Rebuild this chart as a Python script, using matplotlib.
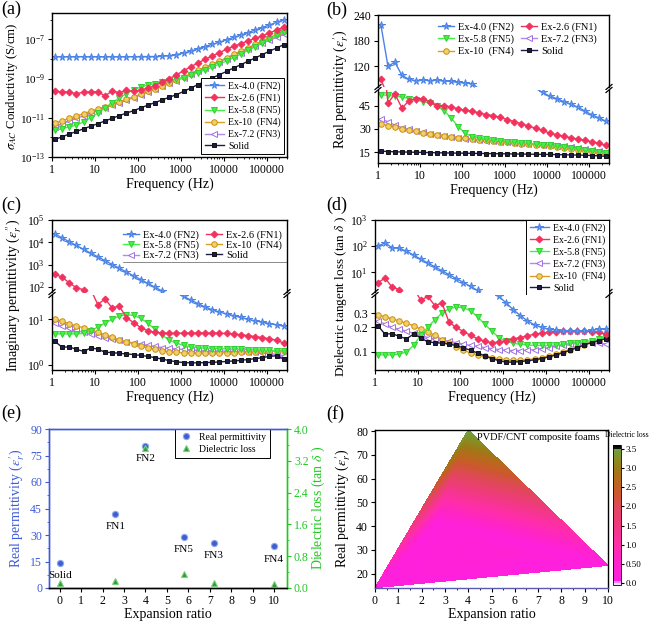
import numpy as np
import matplotlib
matplotlib.use('Agg')
import matplotlib.pyplot as plt
import matplotlib.ticker as mticker
import matplotlib.tri as mtri
from matplotlib.colors import LinearSegmentedColormap, Normalize
from matplotlib.lines import Line2D

plt.rcParams['font.family'] = ['Liberation Serif', 'DejaVu Serif']
plt.rcParams['mathtext.fontset'] = 'stix'
plt.rcParams['axes.linewidth'] = 1.0
plt.rcParams['xtick.direction'] = 'out'
plt.rcParams['ytick.direction'] = 'out'
plt.rcParams['xtick.labelsize'] = 8.5
plt.rcParams['ytick.labelsize'] = 8.5
plt.rcParams['xtick.major.size'] = 3
plt.rcParams['ytick.major.size'] = 3
plt.rcParams['xtick.minor.size'] = 1.5
plt.rcParams['ytick.minor.size'] = 1.5
plt.rcParams['xtick.major.pad'] = 2
plt.rcParams['ytick.major.pad'] = 2

# ---------------- data ----------------
freq = [1.17, 1.72, 2.52, 3.70, 5.43, 7.97, 11.7, 17.2, 25.2, 37.0, 54.3, 79.7,
        117, 172, 252, 370, 543, 797, 1170, 1720, 2520, 3700, 5430, 7970,
        11700, 17200, 25200, 37000, 54300, 79700, 117000, 172000, 252000]
freq_ticks = [1, 10, 100, 1000, 10000, 100000]
freq_tick_labels = ['1', '10', '100', '1000', '10000', '100000']

labels = {'FN2': 'Ex-4.0 (FN2)', 'FN1': 'Ex-2.6 (FN1)', 'FN5': 'Ex-5.8 (FN5)',
          'FN4': 'Ex-10  (FN4)', 'FN3': 'Ex-7.2 (FN3)', 'Solid': 'Solid'}

# (a) AC conductivity, S/cm
a_fn2 = [1.30e-8, 1.31e-8, 1.30e-8, 1.31e-8, 1.30e-8, 1.31e-8, 1.30e-8, 1.30e-8,
         1.31e-8, 1.31e-8, 1.30e-8, 1.31e-8, 1.32e-8, 1.32e-8, 1.33e-8, 1.38e-8,
         1.48e-8, 1.66e-8, 2.0e-8, 2.5e-8, 3.3e-8, 4.3e-8, 5.6e-8, 7.2e-8, 9.5e-8,
         1.26e-7, 1.66e-7, 2.2e-7, 3.0e-7, 4.0e-7, 5.4e-7, 7.4e-7, 1.0e-6]
a_fn1 = [2.2e-10, 2.1e-10, 2.0e-10, 1.7e-10, 2.0e-10, 2.1e-10, 2.1e-10, 1.3e-10,
         2.3e-10, 1.9e-10, 2.5e-10, 2.2e-10, 2.6e-10, 3.3e-10, 4.4e-10, 6.4e-10,
         9.8e-10, 1.55e-9, 2.5e-9, 4.0e-9, 6.3e-9, 9.5e-9, 1.4e-8, 2.1e-8, 3.1e-8,
         4.4e-8, 6.0e-8, 8.3e-8, 1.12e-7, 1.5e-7, 2.1e-7, 3.0e-7, 4.2e-7]
a_fn5 = [2.3e-12, 2.8e-12, 3.4e-12, 4.2e-12, 6.2e-12, 1.02e-11, 1.74e-11, 3.2e-11,
         5.8e-11, 1.02e-10, 1.7e-10, 2.75e-10, 3.7e-10, 4.6e-10, 5.5e-10, 6.5e-10,
         7.6e-10, 9.1e-10, 1.12e-9, 1.48e-9, 2.0e-9, 2.75e-9, 3.8e-9, 5.5e-9, 7.9e-9,
         1.17e-8, 1.74e-8, 2.7e-8, 4.2e-8, 6.6e-8, 1.02e-7, 1.58e-7, 2.4e-7]
a_fn4 = [5.4e-12, 7.1e-12, 9.3e-12, 1.23e-11, 1.62e-11, 2.14e-11, 2.8e-11, 3.7e-11,
         4.9e-11, 6.5e-11, 8.7e-11, 1.17e-10, 1.58e-10, 2.2e-10, 3.0e-10, 4.3e-10,
         6.0e-10, 8.5e-10, 1.23e-9, 1.78e-9, 2.6e-9, 3.7e-9, 5.4e-9, 7.9e-9, 1.15e-8,
         1.7e-8, 2.5e-8, 3.7e-8, 5.5e-8, 8.1e-8, 1.2e-7, 1.78e-7, 2.6e-7]
a_fn3 = [3.5e-12, 5.0e-12, 6.8e-12, 9.3e-12, 1.26e-11, 1.7e-11, 2.3e-11, 3.2e-11,
         4.3e-11, 5.8e-11, 7.9e-11, 1.07e-10, 1.48e-10, 2.0e-10, 2.8e-10, 4.0e-10,
         5.6e-10, 7.9e-10, 1.12e-9, 1.62e-9, 2.3e-9, 3.4e-9, 4.9e-9, 7.1e-9, 1.02e-8,
         1.48e-8, 2.1e-8, 3.1e-8, 4.5e-8, 6.3e-8, 8.9e-8, 1.26e-7, 1.78e-7]
a_solid = [7.9e-13, 1.07e-12, 1.48e-12, 2.0e-12, 2.75e-12, 3.7e-12, 5.0e-12, 6.9e-12,
           9.3e-12, 1.29e-11, 1.74e-11, 2.3e-11, 3.2e-11, 4.4e-11, 6.0e-11, 8.1e-11,
           1.12e-10, 1.51e-10, 2.2e-10, 3.3e-10, 4.9e-10, 7.2e-10, 1.07e-9, 1.58e-9,
           2.3e-9, 3.5e-9, 5.1e-9, 7.6e-9, 1.12e-8, 1.66e-8, 2.5e-8, 3.6e-8, 5.4e-8]

# (b) real permittivity
b_fn2 = [217, 120, 129, 98, 89, 86, 88, 86, 87, 85, 84, 82, 80, 79, 66, 64, 63,
         62, 61, 60, 59, 57.5, 56, 53.5, 51, 49.5, 47.5, 46, 44, 41.5, 39, 37, 35]
b_fn1 = [90, 46.6, 52.5, 43.3, 48.1, 49.5, 49.5, 47, 45, 45, 44, 42.9, 41.9, 41.3,
         40.2, 39.2, 38.5, 37.3, 36, 34.6, 33.2, 31.8, 30.4, 29, 27.2, 26.2, 25.2,
         24.3, 23.4, 22.6, 21.7, 20.6, 19.3]
b_fn5 = [52, 51.5, 51, 50.5, 49.5, 48.5, 47.5, 46.5, 44.5, 41.5, 37, 31.5, 27, 25,
         24, 23.3, 22.7, 22.2, 21.8, 21.4, 21, 20.6, 20.2, 19.8, 19.3, 18.8, 18.3,
         17.8, 17.2, 16.6, 16, 15.3, 14.5]
b_fn4 = [33.2, 32, 31, 30, 29.2, 28.4, 27.6, 26.9, 26.2, 25.6, 25, 24.4, 23.9, 23.4,
         22.9, 22.5, 22.1, 21.7, 21.3, 20.9, 20.5, 20.1, 19.7, 19.3, 18.8, 18.3,
         17.8, 17.2, 16.6, 15.9, 15.2, 14.4, 13.6]
b_fn3 = [36.3, 34.6, 32.4, 30.8, 29.6, 28.6, 27.7, 26.9, 26.2, 25.5, 24.9, 24.3,
         23.7, 23.2, 22.8, 22.4, 22.1, 21.8, 21.5, 21.1, 20.8, 20.4, 20.1, 19.8,
         19.6, 19.2, 18.8, 18.3, 17.8, 17.2, 16.6, 15.9, 15.2]
b_solid = [15.6, 15.4, 15.2, 15.1, 15.0, 14.9, 14.8, 14.7, 14.6, 14.5, 14.4, 14.35,
           14.3, 14.2, 14.15, 14.1, 14.0, 13.95, 13.9, 13.8, 13.75, 13.7, 13.6,
           13.55, 13.5, 13.4, 13.3, 13.2, 13.1, 13.0, 12.8, 12.6, 12.3]

# (c) imaginary permittivity
c_fn2 = [23400, 15800, 10700, 7240, 4900, 3310, 2240, 1510, 1020, 692, 468, 316,
         214, 145, 98, 66, 48, 38, 31.6, 26.3, 21.9, 18.6, 16.2, 14.5, 13.2, 12.0,
         11.0, 10.0, 9.3, 8.7, 8.1, 7.6, 7.1]
c_fn1 = [380, 275, 155, 93, 76, 45, 21, 28, 17.7, 19.5, 10.8, 8.5, 6.6, 5.6, 5.2,
         5.0, 4.9, 4.95, 5.0, 5.0, 5.0, 5.0, 5.0, 4.95, 4.9, 4.8, 4.6, 4.4, 4.2,
         4.0, 3.75, 3.5, 3.0]
c_fn5 = [4.8, 4.8, 4.8, 4.8, 4.9, 5.6, 6.8, 8.3, 10.0, 11.8, 12.5, 12.2, 10.5, 8.2,
         6.0, 4.5, 3.5, 3.0, 2.7, 2.5, 2.4, 2.35, 2.3, 2.28, 2.25, 2.22, 2.2, 2.18,
         2.15, 2.12, 2.1, 2.05, 2.0]
c_fn4 = [10.3, 9.0, 8.0, 7.1, 6.6, 5.9, 5.2, 4.6, 4.1, 3.5, 3.2, 2.95, 2.65, 2.4,
         2.2, 2.05, 1.95, 1.9, 1.85, 1.82, 1.8, 1.8, 1.82, 1.84, 1.86, 1.88, 1.9,
         1.92, 1.95, 1.98, 2.0, 2.03, 2.05]
c_fn3 = [8.2, 7.0, 6.3, 5.7, 5.2, 4.8, 4.4, 4.0, 3.7, 3.45, 3.25, 3.05, 2.85, 2.7,
         2.55, 2.42, 2.32, 2.25, 2.2, 2.15, 2.1, 2.08, 2.05, 2.03, 2.0, 2.0, 1.98,
         1.95, 1.9, 1.85, 1.8, 1.7, 1.6]
c_solid = [3.3, 2.45, 2.5, 2.2, 2.0, 2.35, 2.25, 1.9, 1.88, 1.8, 1.75, 1.7, 1.62,
           1.55, 1.45, 1.35, 1.25, 1.18, 1.13, 1.12, 1.12, 1.13, 1.15, 1.17, 1.2,
           1.23, 1.27, 1.32, 1.38, 1.45, 1.55, 1.6, 1.35]

# (d) dielectric tangent loss
d_fn2 = [100, 133, 87, 82, 65, 46, 32, 23, 16.2, 11.5, 8.1, 5.8, 4.1, 2.9, 2.05,
         1.45, 0.9, 0.48, 0.4, 0.33, 0.28, 0.24, 0.215, 0.2, 0.19, 0.185, 0.18,
         0.18, 0.18, 0.18, 0.185, 0.19, 0.19]
d_fn1 = [4.0, 6.1, 2.7, 2.2, 1.2, 0.62, 0.43, 0.48, 0.37, 0.4, 0.23, 0.2, 0.178,
         0.16, 0.145, 0.135, 0.13, 0.132, 0.138, 0.145, 0.15, 0.158, 0.165, 0.17,
         0.175, 0.178, 0.18, 0.18, 0.18, 0.18, 0.178, 0.175, 0.165]
d_fn5 = [0.092, 0.092, 0.092, 0.094, 0.1, 0.12, 0.16, 0.2, 0.25, 0.3, 0.34, 0.355,
         0.35, 0.32, 0.27, 0.22, 0.18, 0.15, 0.135, 0.128, 0.124, 0.122, 0.12, 0.12,
         0.12, 0.122, 0.124, 0.127, 0.13, 0.134, 0.138, 0.143, 0.15]
d_fn3 = [0.24, 0.22, 0.2, 0.19, 0.18, 0.17, 0.16, 0.15, 0.145, 0.14, 0.135, 0.13,
         0.125, 0.12, 0.117, 0.113, 0.11, 0.107, 0.105, 0.104, 0.104, 0.105, 0.107,
         0.11, 0.113, 0.117, 0.12, 0.124, 0.128, 0.13, 0.13, 0.128, 0.125]
d_fn4 = [0.282, 0.27, 0.255, 0.24, 0.225, 0.21, 0.19, 0.175, 0.16, 0.142, 0.128,
         0.115, 0.105, 0.097, 0.092, 0.088, 0.085, 0.082, 0.08, 0.079, 0.079, 0.08,
         0.082, 0.085, 0.089, 0.094, 0.1, 0.107, 0.115, 0.123, 0.132, 0.142, 0.152]
d_solid = [0.21, 0.165, 0.168, 0.155, 0.145, 0.165, 0.15, 0.132, 0.13, 0.128, 0.125,
           0.12, 0.112, 0.105, 0.097, 0.09, 0.083, 0.078, 0.075, 0.075, 0.076, 0.078,
           0.08, 0.083, 0.087, 0.092, 0.098, 0.105, 0.113, 0.122, 0.13, 0.138, 0.145]

# (e)/(f) summary values
sample_names = ['Solid', 'FN1', 'FN2', 'FN5', 'FN3', 'FN4']
expansion = [0, 2.6, 4.0, 5.8, 7.2, 10]
real_perm = [14.1, 42, 80.5, 28.8, 25.5, 23.5]
diel_loss = [0.12, 0.18, 3.52, 0.36, 0.12, 0.1]

# ---------------- styles ----------------
styles = {
    'FN2': dict(color='#4a82e6', marker='*', ms=5.5, mec='#4a82e6', mfc='#6a9af0'),
    'FN1': dict(color='#f2325e', marker='D', ms=3.5, mec='#f2325e', mfc='#f2325e'),
    'FN5': dict(color='#48ee48', marker='v', ms=4.5, mec='#30d030', mfc='#48ee48'),
    'FN4': dict(color='#d9a021', marker='o', ms=4, mfc='#f2cf6a', mec='#c99010'),
    'FN3': dict(color='#b588ec', marker='<', ms=4, mfc='white', mec='#a070e0'),
    'Solid': dict(color='#1c1c44', marker='s', ms=3.5, mec='#111111', mfc='#1c1c44'),
}
draw_order = ['FN3', 'FN4', 'FN5', 'Solid', 'FN1', 'FN2']

W, H = 656, 626
fig = plt.figure(figsize=(W / 100, H / 100), dpi=100)


def add_ax(x0, y0, x1, y1):
    return fig.add_axes([x0 / W, 1 - y1 / H, (x1 - x0) / W, (y1 - y0) / H])


def plot_all(axes, data):
    # lines run through the whole range (clipped by the axes),
    # markers only where the point lies inside this axes' y range
    handles = {}
    for ax in axes:
        ax.set_autoscale_on(False)
        lo, hi = ax.get_ylim()
        for key in draw_order:
            st = styles[key]
            vals = np.array(data[key], dtype=float)
            ax.plot(freq, vals, color=st['color'], lw=1.0)
            shown = np.where((vals >= lo) & (vals <= hi), vals, np.nan)
            ax.plot(freq, shown, ls='none', marker=st['marker'], ms=st['ms'],
                    mec=st['mec'], mfc=st['mfc'], mew=0.7)
    for key in draw_order:
        handles[key] = Line2D([], [], lw=1.0, mew=0.7, **styles[key])
    return handles


def freq_axis(ax, show=True):
    ax.set_xscale('log')
    ax.set_xlim(1, 3e5)
    ax.set_xticks(freq_ticks)
    ax.set_xticklabels(freq_tick_labels if show else [])
    ax.xaxis.set_minor_locator(mticker.LogLocator(subs=np.arange(2, 10)))
    ax.xaxis.set_minor_formatter(mticker.NullFormatter())
    if not show:
        ax.tick_params(axis='x', which='both', length=0)


def break_marks(ax_top, ax_bot):
    for ax, yy in ((ax_top, 0), (ax_bot, 1)):
        bb = ax.get_position()
        dx = 3.0 / (bb.width * W)
        dy = 2.5 / (bb.height * H)
        for xx in (0, 1):
            ax.plot([xx - dx, xx + dx], [yy - dy, yy + dy], transform=ax.transAxes,
                    color='k', lw=0.9, clip_on=False)


def split_spines(ax_top, ax_bot):
    ax_top.spines['bottom'].set_visible(False)
    ax_bot.spines['top'].set_visible(False)
    break_marks(ax_top, ax_bot)


def ylabel(x, y, text, color='k', size=10):
    fig.text(x / W, 1 - y / H, text, rotation=90, ha='center', va='center',
             fontsize=size, color=color)


def panel(x, y, text):
    fig.text(x / W, 1 - y / H, text, ha='left', va='top', fontsize=13)


# ---------------- (a) ----------------
ax_a = add_ax(52, 13, 287, 157)
ax_a.set_yscale('log')
ax_a.set_ylim(1e-13, 2.2e-6)
freq_axis(ax_a)
h_a = plot_all([ax_a], {'FN2': a_fn2, 'FN1': a_fn1, 'FN5': a_fn5, 'FN4': a_fn4,
                        'FN3': a_fn3, 'Solid': a_solid})
ax_a.yaxis.set_major_locator(mticker.FixedLocator([1e-13, 1e-11, 1e-9, 1e-7]))
ax_a.yaxis.set_minor_locator(mticker.FixedLocator([1e-12, 1e-10, 1e-8, 1e-6]))
ax_a.yaxis.set_major_formatter(mticker.LogFormatterMathtext())
ax_a.yaxis.set_minor_formatter(mticker.NullFormatter())
ax_a.tick_params(axis='y', labelsize=8)
ax_a.set_xlabel('Frequency (Hz)', fontsize=10, labelpad=1)
a_order = ['FN2', 'FN1', 'FN5', 'FN4', 'FN3', 'Solid']
leg_a = ax_a.legend([h_a[k] for k in a_order], [labels[k] for k in a_order],
                    loc='lower right', fontsize=7, fancybox=False, edgecolor='k',
                    framealpha=1, borderaxespad=0.3, handlelength=2.0,
                    handletextpad=0.4, borderpad=0.35, labelspacing=0.25)
leg_a.get_frame().set_linewidth(0.7)
ylabel(12, 86, r'$\sigma_{AC}$ Conductivity (S/cm)', size=9.2)
panel(1, 1, '(a)')

# ---------------- (b) ----------------
ax_bt = add_ax(378, 15, 609, 87)
ax_bb = add_ax(378, 90, 609, 163)
ax_bt.set_ylim(71, 240)
ax_bb.set_ylim(8, 55)
freq_axis(ax_bt, show=False)
freq_axis(ax_bb)
h_b = plot_all([ax_bt, ax_bb], {'FN2': b_fn2, 'FN1': b_fn1, 'FN5': b_fn5,
                                'FN4': b_fn4, 'FN3': b_fn3, 'Solid': b_solid})
ax_bt.set_yticks([120, 180, 240])
ax_bb.set_yticks([15, 30, 45])
split_spines(ax_bt, ax_bb)
ax_bb.set_xlabel('Frequency (Hz)', fontsize=10, labelpad=1)
b_order = ['FN2', 'FN5', 'FN4', 'FN1', 'FN3', 'Solid']
ax_bt.legend([h_b[k] for k in b_order], [labels[k] for k in b_order], ncol=2,
             loc='upper right', fontsize=7.5, frameon=False, columnspacing=0.7,
             borderaxespad=0.2, bbox_to_anchor=(0.97, 0.97), handlelength=1.5,
             handletextpad=0.4, borderpad=0.3, labelspacing=0.25)
ylabel(341, 89, r"Real permittivity ($\varepsilon_r'$)")
panel(326, 2, '(b)')

# ---------------- (c) ----------------
ax_ct = add_ax(52, 220, 287, 292)
ax_cb = add_ax(52, 295, 287, 370)
for ax in (ax_ct, ax_cb):
    ax.set_yscale('log')
ax_ct.set_ylim(60, 1e5)
ax_cb.set_ylim(0.78, 34)
freq_axis(ax_ct, show=False)
freq_axis(ax_cb)
h_c = plot_all([ax_ct, ax_cb], {'FN2': c_fn2, 'FN1': c_fn1, 'FN5': c_fn5,
                                'FN4': c_fn4, 'FN3': c_fn3, 'Solid': c_solid})
for ax in (ax_ct, ax_cb):
    ax.yaxis.set_major_formatter(mticker.LogFormatterMathtext())
    ax.yaxis.set_minor_locator(mticker.NullLocator())
ax_ct.set_yticks([1e2, 1e3, 1e4, 1e5])
ax_cb.set_yticks([1, 10])
split_spines(ax_ct, ax_cb)
ax_cb.set_xlabel('Frequency (Hz)', fontsize=10, labelpad=1)
c_order = ['FN2', 'FN5', 'FN3', 'FN1', 'FN4', 'Solid']
ax_ct.legend([h_c[k] for k in c_order], [labels[k] for k in c_order], ncol=2,
             loc='upper right', fontsize=7.5, frameon=False, columnspacing=0.7,
             borderaxespad=0.1, bbox_to_anchor=(0.995, 0.92), handlelength=1.5,
             handletextpad=0.4, borderpad=0.3, labelspacing=0.08)
ax_ct.add_line(Line2D([0.3, 1.0], [0.41, 0.41], transform=ax_ct.transAxes,
                      color='#777777', lw=0.6))
ylabel(14, 295, r"Imaginary permittivity ($\varepsilon_r''$)")
panel(1, 197, '(c)')

# ---------------- (d) ----------------
ax_dt = add_ax(375, 220, 609, 292)
ax_db = add_ax(375, 295, 609, 370)
for ax in (ax_dt, ax_db):
    ax.set_yscale('log')
ax_dt.set_ylim(1.78, 1000)
ax_db.set_ylim(0.06, 0.5)
freq_axis(ax_dt, show=False)
freq_axis(ax_db)
h_d = plot_all([ax_dt, ax_db], {'FN2': d_fn2, 'FN1': d_fn1, 'FN5': d_fn5,
                                'FN4': d_fn4, 'FN3': d_fn3, 'Solid': d_solid})
for ax in (ax_dt, ax_db):
    ax.yaxis.set_minor_locator(mticker.NullLocator())
ax_dt.set_yticks([10, 100, 1000])
ax_dt.yaxis.set_major_formatter(mticker.LogFormatterMathtext())
ax_db.set_yticks([0.1, 0.2, 0.3])
ax_db.set_yticklabels(['0.1', '0.2', '0.3'])
split_spines(ax_dt, ax_db)
ax_db.set_xlabel('Frequency (Hz)', fontsize=10, labelpad=1)
d_order = ['FN2', 'FN1', 'FN5', 'FN3', 'FN4', 'Solid']
leg_d = ax_dt.legend([h_d[k] for k in d_order], [labels[k] for k in d_order],
                     loc='upper right', fontsize=7, fancybox=False, edgecolor='k',
                     framealpha=1, borderaxespad=0, handlelength=2.0,
                     handletextpad=0.4, borderpad=0.35, labelspacing=0.25)
leg_d.get_frame().set_linewidth(0.7)
ylabel(341, 297, r'Dielectric tangent loss (tan $\delta$ )', size=9.5)
panel(326, 197, '(d)')

# ---------------- (e) ----------------
blue = '#3d5ad8'
green = '#22c822'
ax_e = add_ax(49, 429, 287, 588)
ax_e2 = ax_e.twinx()
p1, = ax_e.plot(expansion, real_perm, 'o', ls='none', ms=4.5, mfc='#3f5fd0',
                mec='#8fa8f0', mew=0.8)
p2, = ax_e2.plot(expansion, diel_loss, '^', ls='none', ms=5, mfc='#2f9a3a',
                 mec='#7ad27a', mew=0.8)
ax_e.set_xlim(-0.5, 10.6)
ax_e.set_xticks(range(0, 11))
ax_e.set_ylim(0, 90)
ax_e.set_yticks(range(0, 91, 15))
ax_e.yaxis.set_minor_locator(mticker.AutoMinorLocator(2))
ax_e2.set_ylim(0, 4.0)
ax_e2.set_yticks(np.arange(0, 4.01, 0.8))
ax_e2.yaxis.set_major_formatter(mticker.FormatStrFormatter('%.1f'))
ax_e2.yaxis.set_minor_locator(mticker.AutoMinorLocator(2))
ax_e.tick_params(axis='y', colors=blue, which='both')
ax_e2.tick_params(axis='y', colors=green, which='both')
for ax in (ax_e, ax_e2):
    ax.spines['left'].set_color(blue)
    ax.spines['top'].set_color(blue)
    ax.spines['right'].set_color(green)
for name, xv, yv in zip(sample_names, expansion, real_perm):
    ax_e.annotate(name, (xv, yv), xytext=(0, -6), textcoords='offset points',
                  ha='center', va='top', fontsize=8)
ax_e.set_xlabel('Expansion ratio', fontsize=10, labelpad=1)
leg_e = ax_e.legend([p1, p2], ['Real permittivity', 'Dielectric loss'],
                    loc='upper right', bbox_to_anchor=(0.93, 1.0), fontsize=7,
                    fancybox=False, edgecolor='k', framealpha=1, borderaxespad=0,
                    handlelength=1.5, handletextpad=0.6, borderpad=0.4,
                    labelspacing=0.3)
leg_e.get_frame().set_linewidth(0.7)
ylabel(17, 508, r"Real permittivity ($\varepsilon_r'$)", color=blue)
ylabel(318, 508, r'Dielectric loss (tan $\delta$ )', color=green)
panel(1, 405, '(e)')

# ---------------- (f) ----------------
ax_f = add_ax(375, 430, 608, 588)
cmap = LinearSegmentedColormap.from_list('loss', [
    (0.0, '#f0eaff'), (0.012, '#e4d4ff'), (0.03, '#ff20e0'), (0.15, '#ff22cc'),
    (0.29, '#ff2ea8'), (0.425, '#f03a80'), (0.56, '#e04858'), (0.64, '#d05438'),
    (0.70, '#c46024'), (0.78, '#ac7018'), (0.836, '#9a7c18'), (0.89, '#8a8c22'),
    (0.945, '#7a9832'), (0.972, '#70a040'), (0.978, '#101010'), (1.0, '#000000')])
norm = Normalize(vmin=-0.05, vmax=3.6)
tri = mtri.Triangulation(expansion, real_perm)
tcf = ax_f.tricontourf(tri, diel_loss, levels=np.linspace(-0.05, 3.6, 74),
                       cmap=cmap, norm=norm)
ax_f.set_xlim(0, 10)
ax_f.set_ylim(14, 80.5)
ax_f.set_xticks(range(0, 11))
ax_f.xaxis.set_minor_locator(mticker.AutoMinorLocator(2))
ax_f.set_yticks(range(20, 81, 10))
ax_f.spines['bottom'].set_color('#5a5ab0')
ax_f.set_xlabel('Expansion ratio', fontsize=10, labelpad=1)
ax_f.text(9.65, 77.5, 'PVDF/CNT composite foams', ha='right', va='center',
          fontsize=7.5)
ylabel(343, 508, r"Real permittivity ($\varepsilon_r'$)")
panel(326, 405, '(f)')

cax = add_ax(613, 445, 621, 585)
cb = fig.colorbar(tcf, cax=cax, ticks=[0, 0.5, 1.0, 1.5, 2.0, 2.5, 3.0, 3.5])
cb.ax.set_yticklabels(['0.0', '0.50', '1.0', '1.5', '2.0', '2.5', '3.0', '3.5'])
cb.ax.tick_params(labelsize=6.5, length=2, pad=1)
cb.outline.set_linewidth(0.6)
fig.text(627 / W, 1 - 439 / H, 'Dielectric loss', ha='center', va='bottom',
         fontsize=5.5)

fig.savefig('out.png', dpi=100)
